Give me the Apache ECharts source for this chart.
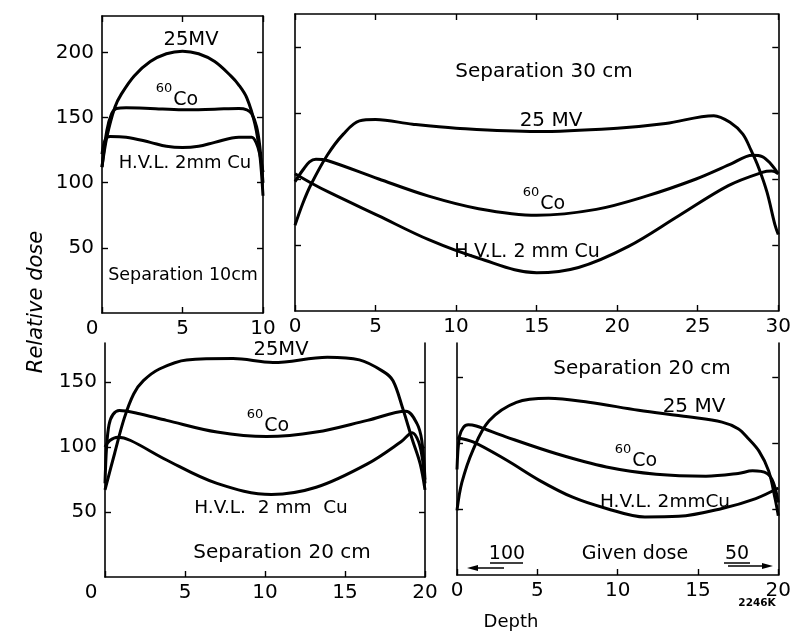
<!DOCTYPE html>
<html><head><meta charset="utf-8">
<script src="https://cdn.jsdelivr.net/npm/echarts@6/dist/echarts.min.js"></script>
<style>html,body{margin:0;padding:0;background:#fff}#c{width:794px;height:634px}</style>
</head><body><div id="c"></div>
<script>
// ---- Panel 1: Separation 10 cm ----
const p1MVx  = [0, 0.3, 0.8, 1.2, 2, 3, 4, 5, 6, 7, 8, 8.5, 9, 9.5, 9.8, 10];
const p1MVy  = [112, 135, 158, 168, 182, 193, 199, 201, 199, 193, 182, 175, 165, 145, 122, 90];
const p1COx  = [0, 0.3, 0.6, 0.9, 1.5, 3, 5, 7, 8.5, 9, 9.3, 9.6, 9.8, 10];
const p1COy  = [112, 140, 153, 157, 157.5, 157, 156, 156.5, 157, 156, 153, 143, 128, 100];
const p1HVx  = [0, 0.2, 0.5, 1.5, 3, 4, 5, 6, 7, 8.5, 9.3, 9.6, 9.8, 10];
const p1HVy  = [122, 133, 135.5, 135, 131, 128, 127, 128, 131, 135, 135, 130, 122, 108];
// ---- Panel 2: Separation 30 cm ----
const p2MVx  = [0, 0.5, 1, 2, 3, 4, 5, 7.3, 10, 15, 20, 23, 26, 27, 27.8, 28.3, 28.8, 29.3, 29.8, 30];
const p2MVy  = [65, 82, 96, 118, 134, 144, 145, 141.5, 138.5, 136, 138.5, 142, 148, 143, 134, 122, 108, 90, 65, 58];
const p2COx  = [0, 0.5, 0.9, 1.3, 2, 5.2, 8.3, 11.4, 15, 18.7, 21.8, 24.9, 27, 28.4, 29, 29.5, 30];
const p2COy  = [98, 107, 113, 115, 114, 100, 87, 77.5, 72.5, 77, 87, 100, 111, 118, 117, 112, 104];
const p2HVx  = [0, 1, 2.1, 5.2, 8.3, 11.4, 15, 17.6, 20.7, 23.8, 26.9, 29, 29.6, 30];
const p2HVy  = [104, 97, 90, 72, 54, 40, 29, 33, 49, 72, 95, 105, 106, 104];
// ---- Panel 3: Separation 20 cm ----
const p3MVx  = [0, 0.6, 1.2, 1.8, 2.4, 3.4, 5.1, 8, 10.5, 13.9, 15.9, 17.4, 18, 18.6, 19.2, 19.7, 20];
const p3MVy  = [67, 95, 122, 141, 151, 160, 167, 168, 165, 169, 167, 158, 151, 130, 106, 87, 67];
const p3COx  = [0, 0.1, 0.25, 0.5, 0.9, 2, 3.85, 7, 10.1, 13.2, 16.4, 18.8, 19.5, 19.8, 20];
const p3COy  = [72, 100, 117, 125, 128, 126, 120.5, 111.5, 108, 111.5, 120.5, 127.5, 118, 105, 75];
const p3HVx  = [0, 0.3, 0.8, 1.6, 3.85, 7, 10.4, 13.2, 16.4, 18.5, 19.2, 19.6, 19.85, 20];
const p3HVy  = [100, 105, 107.5, 105, 90, 72, 63.5, 69, 87, 104, 111, 104, 90, 72];
// ---- Panel 4: Separation 20 cm (given dose 100 / 50) ----
const p4MVx  = [0, 0.3, 1, 2, 3.7, 5.7, 8.2, 11.3, 14.4, 16.5, 17.5, 18.1, 18.8, 19.4, 19.8, 20];
const p4MVy  = [49, 70, 95, 117, 131, 134, 131, 125, 120, 116, 111, 104, 94, 79, 58, 45];
const p4COx  = [0, 0.15, 0.4, 0.7, 1.2, 3, 6.2, 9.3, 12.4, 15.5, 17.5, 18.4, 19.3, 19.7, 20];
const p4COy  = [80, 105, 112, 114, 113, 105, 92, 82, 76.5, 75, 77, 79, 77, 70, 55];
const p4HVx  = [0, 1, 3.1, 5.1, 7.2, 9.3, 11.7, 13.8, 16.5, 18.6, 20];
const p4HVy  = [104, 101, 87, 72, 59, 50.5, 44, 44.5, 50.5, 58, 66];

// ---- axis ticks / ranges ----
const xMax = [10, 30, 20, 20];
const yMax = [228, 225, 180, 176];
const yTicks = [50, 100, 150, 200];
const yTicksLow = [50, 100, 150];

const FONT = 'DejaVu Sans';
const BLK = '#000';
const zip = (a, b) => a.map((v, i) => [v, b[i]]);

const grids = [
  {left: 102, top: 16, width: 161, height: 297},
  {left: 295, top: 14, width: 484, height: 297},
  {left: 105, top: 343, width: 320, height: 234},
  {left: 457, top: 343, width: 323, height: 232}
];

const lineAx = {show: true, onZero: false, lineStyle: {color: BLK, width: 1.6}};
const tickAx = {show: true, inside: true, length: 6, lineStyle: {color: BLK, width: 1.4}};

function xAxisDef(g, pos, labels, zeroPad) {
  return {
    gridIndex: g, type: 'value', min: 0, max: xMax[g], interval: 5, position: pos,
    axisLine: lineAx, axisTick: tickAx, splitLine: {show: false},
    axisLabel: {
      show: labels, margin: 6, fontSize: 20, color: BLK, fontFamily: FONT,
      formatter: v => v === 0 ? '{z|0}' : String(v),
      rich: {z: {fontSize: 20, fontFamily: FONT, color: BLK, padding: [0, zeroPad, 0, 0]}}
    }
  };
}
function yAxisDef(g, pos, labels, ticks) {
  return {
    gridIndex: g, type: 'value', min: 0, max: yMax[g], position: pos,
    axisLine: lineAx, splitLine: {show: false},
    axisTick: Object.assign({}, tickAx, {customValues: ticks}),
    axisLabel: {show: labels, customValues: ticks, margin: 8, fontSize: 20, color: BLK, fontFamily: FONT}
  };
}

const xAxes = [
  xAxisDef(0, 'bottom', true, 20),
  xAxisDef(1, 'bottom', true, 0),
  xAxisDef(2, 'bottom', true, 28),
  xAxisDef(3, 'bottom', true, 0),
  xAxisDef(0, 'top', false, 0),
  xAxisDef(1, 'top', false, 0)
];
const yAxes = [
  yAxisDef(0, 'left', true, yTicks),
  yAxisDef(1, 'left', false, yTicks),
  yAxisDef(2, 'left', true, yTicksLow),
  yAxisDef(3, 'left', false, yTicksLow),
  yAxisDef(0, 'right', false, yTicks),
  yAxisDef(1, 'right', false, yTicks),
  yAxisDef(2, 'right', false, yTicksLow),
  yAxisDef(3, 'right', false, yTicksLow)
];

const curves = [
  [0, p1MVx, p1MVy], [0, p1COx, p1COy], [0, p1HVx, p1HVy],
  [1, p2MVx, p2MVy], [1, p2COx, p2COy], [1, p2HVx, p2HVy],
  [2, p3MVx, p3MVy], [2, p3COx, p3COy], [2, p3HVx, p3HVy],
  [3, p4MVx, p4MVy], [3, p4COx, p4COy], [3, p4HVx, p4HVy]
];
const series = curves.map(c => ({
  type: 'line', xAxisIndex: c[0], yAxisIndex: c[0], data: zip(c[1], c[2]),
  showSymbol: false, smooth: 0.35, lineStyle: {color: BLK, width: 3}, silent: true, animation: false
}));

const tStyle = (text, x, y, size, extra) => ({
  type: 'text', x: x, y: y, silent: true,
  style: Object.assign({text: text, fill: BLK, fontSize: size || 18, fontFamily: FONT,
    align: 'center', verticalAlign: 'middle'}, extra || {})
});
const coRich = {rich: {s: {fontSize: 13, fontFamily: FONT, fill: BLK, verticalAlign: 'top', padding: [0, 1, 8, 0]},
                       n: {fontSize: 19, fontFamily: FONT, fill: BLK, padding: [8, 0, 0, 0]}}};
const coText = '{s|60}{n|Co}';

const graphics = [
  tStyle('25MV', 191, 40, 19.5),
  tStyle(coText, 177, 96, 19, coRich),
  tStyle('H.V.L. 2mm Cu', 185, 163, 18),
  tStyle('Separation 10cm', 183, 275, 17.5),
  tStyle('Separation 30 cm', 544, 72, 20),
  tStyle('25 MV', 551, 121, 20),
  tStyle(coText, 544, 200, 19, coRich),
  tStyle('H.V.L. 2 mm Cu', 527, 252, 19),
  tStyle('25MV', 281, 350, 19.5),
  tStyle(coText, 268, 422, 19, coRich),
  tStyle('H.V.L.  2 mm  Cu', 271, 508, 18.5),
  tStyle('Separation 20 cm', 282, 553, 20),
  tStyle('Separation 20 cm', 642, 369, 20),
  tStyle('25 MV', 694, 407, 20),
  tStyle(coText, 636, 457, 19, coRich),
  tStyle('H.V.L. 2mmCu', 665, 502, 18.5),
  tStyle('Given dose', 635, 554, 19),
  tStyle('100', 507, 554, 19),
  tStyle('50', 737, 554, 19),
  {type: 'line', silent: true, shape: {x1: 490, y1: 563, x2: 523, y2: 563}, style: {stroke: BLK, lineWidth: 1.5}},
  {type: 'line', silent: true, shape: {x1: 724, y1: 563, x2: 750, y2: 563}, style: {stroke: BLK, lineWidth: 1.5}},
  {type: 'line', silent: true, shape: {x1: 476, y1: 568, x2: 504, y2: 568}, style: {stroke: BLK, lineWidth: 1.5}},
  {type: 'polygon', silent: true, shape: {points: [[467, 568], [478, 565], [478, 571]]}, style: {fill: BLK}},
  {type: 'line', silent: true, shape: {x1: 728, y1: 566, x2: 764, y2: 566}, style: {stroke: BLK, lineWidth: 1.5}},
  {type: 'polygon', silent: true, shape: {points: [[773, 566], [762, 563], [762, 569]]}, style: {fill: BLK}},
  tStyle('Relative dose', 37, 302, 21, {fontStyle: 'italic'}),
  tStyle('Depth', 511, 622, 18),
  tStyle('2246K', 757, 603, 10.5, {fontWeight: 'bold'})
];
// rotate the y-axis title
graphics[25].rotation = Math.PI / 2;

const chart = echarts.init(document.getElementById('c'), null, {renderer: 'canvas'});
chart.setOption({
  backgroundColor: '#fff',
  animation: false,
  grid: grids,
  xAxis: xAxes,
  yAxis: yAxes,
  series: series,
  graphic: graphics
});
</script></body></html>
